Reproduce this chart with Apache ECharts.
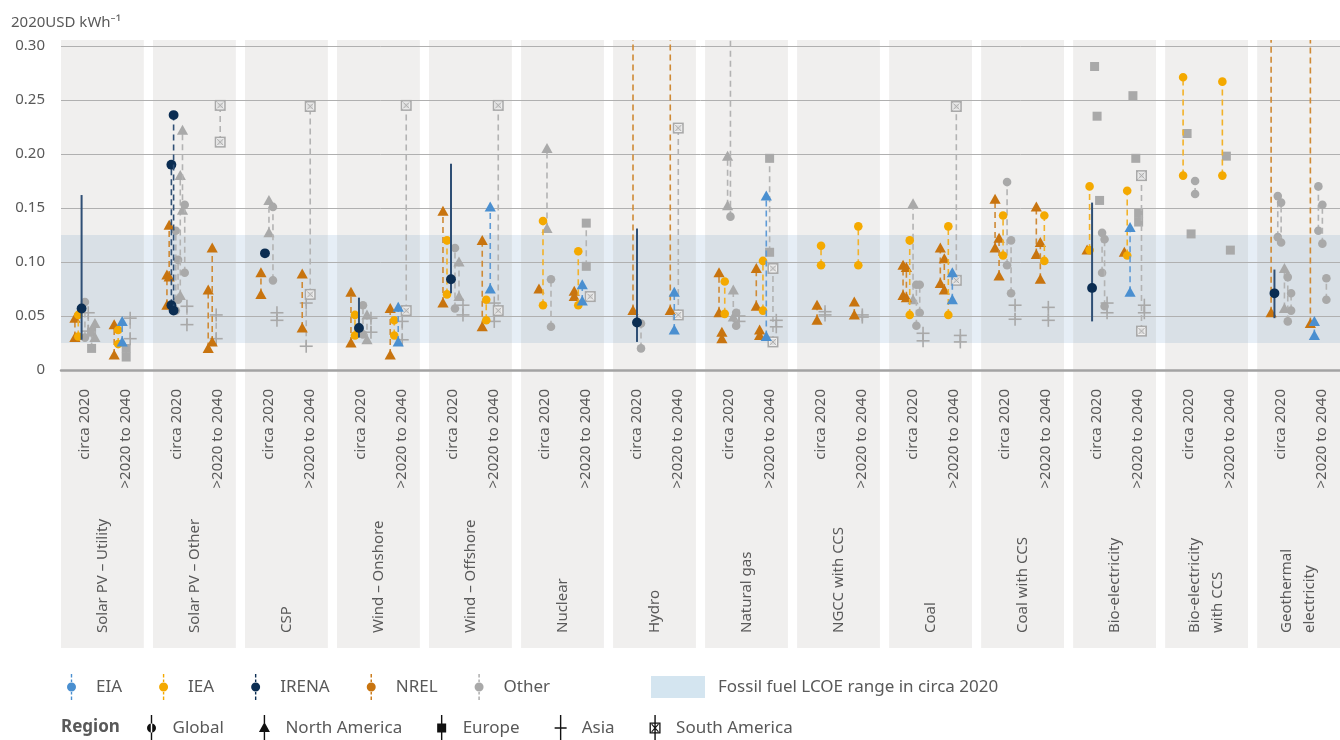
<!DOCTYPE html>
<html><head><meta charset="utf-8">
<script src="https://cdn.jsdelivr.net/npm/echarts@6/dist/echarts.min.js"></script>
<style>html,body{margin:0;padding:0;background:#fff}#c{width:1340px;height:740px}</style>
</head><body><div id="c"></div><script>
// ---------------- DATA ----------------
const groups = ['Solar PV – Utility', 'Solar PV – Other', 'CSP', 'Wind – Onshore', 'Wind – Offshore', 'Nuclear', 'Hydro', 'Natural gas', 'NGCC with CCS', 'Coal', 'Coal with CCS', 'Bio-electricity', 'Bio-electricity\nwith CCS', 'Geothermal\nelectricity'];
const periods = ['circa 2020', '>2020 to 2040'];
const regions = ['Global', 'North America', 'Europe', 'Asia', 'South America'];
const regionCodes = ['G', 'NA', 'EU', 'AS', 'SA'];
const fossilRange = [0.025, 0.125];
const yAxisName = '2020USD kWh⁻¹';
// rows: [group, period, region, low, high]
const eiaData = [
  [0,1,'NA',0.026,0.045],[3,1,'NA',0.026,0.058],[4,1,'NA',0.075,0.151],[5,1,'NA',0.064,0.079],
  [6,1,'NA',0.037,0.072],[7,1,'NA',0.031,0.161],[9,1,'NA',0.065,0.090],[11,1,'NA',0.072,0.132],
  [13,1,'NA',0.032,0.045]
];
const ieaData = [
  [0,0,'G',0.031,0.051],[0,1,'G',0.024,0.037],[3,0,'G',0.032,0.051],[3,1,'G',0.032,0.046],
  [4,0,'G',0.070,0.120],[4,1,'G',0.046,0.065],[5,0,'G',0.060,0.138],[5,1,'G',0.060,0.110],
  [7,0,'G',0.052,0.082],[7,1,'G',0.055,0.101],[8,0,'G',0.097,0.115],[8,1,'G',0.097,0.133],
  [9,0,'G',0.051,0.120],[9,1,'G',0.051,0.133],[10,0,'G',0.106,0.143],[10,1,'G',0.101,0.143],
  [11,0,'G',0.111,0.170],[11,1,'G',0.106,0.166],[12,0,'G',0.180,0.271],[12,1,'G',0.180,0.267]
];
// IRENA rows: [group, period, region, low, high, weighted average (null = plain range)]
const irenaData = [
  [0,0,'G',0.028,0.162,0.057],[1,0,'G',0.060,0.190,null],[1,0,'G',0.055,0.236,null],
  [2,0,'G',0.108,0.108,0.108],[3,0,'G',0.030,0.067,0.039],[4,0,'G',0.071,0.191,0.084],
  [6,0,'G',0.026,0.131,0.044],[11,0,'G',0.045,0.155,0.076],[13,0,'G',0.048,0.093,0.071]
];
const nrelData = [
  [0,0,'NA',0.030,0.048],[0,1,'NA',0.014,0.042],[1,0,'NA',0.060,0.088],[1,0,'NA',0.086,0.134],
  [1,1,'NA',0.020,0.074],[1,1,'NA',0.026,0.113],[2,0,'NA',0.070,0.090],[2,1,'NA',0.039,0.089],
  [3,0,'NA',0.025,0.072],[3,1,'NA',0.014,0.057],[4,0,'NA',0.062,0.147],[4,1,'NA',0.040,0.120],
  [5,0,'NA',0.075,0.075],[5,1,'NA',0.068,0.073],[6,0,'NA',0.055,0.40],[6,1,'NA',0.055,0.40],
  [7,0,'NA',0.053,0.090],[7,0,'NA',0.029,0.035],[7,1,'NA',0.059,0.094],[7,1,'NA',0.032,0.037],
  [8,0,'NA',0.046,0.060],[8,1,'NA',0.051,0.063],[9,0,'NA',0.069,0.097],[9,0,'NA',0.067,0.095],
  [9,1,'NA',0.080,0.113],[9,1,'NA',0.074,0.103],[10,0,'NA',0.113,0.158],[10,0,'NA',0.087,0.122],
  [10,1,'NA',0.107,0.151],[10,1,'NA',0.084,0.118],[11,0,'NA',0.111,0.111],[11,1,'NA',0.109,0.109],
  [13,0,'NA',0.053,0.40],[13,1,'NA',0.043,0.40]
];
const otherData = [
  [0,0,'G',0.030,0.063],[0,0,'AS',0.036,0.053],[0,0,'EU',0.020,0.035],[0,0,'NA',0.030,0.043],
  [0,1,'EU',0.012,0.020],[0,1,'AS',0.029,0.048],
  [1,0,'G',0.055,0.129],[1,0,'G',0.065,0.102],[1,0,'NA',0.069,0.180],[1,0,'NA',0.148,0.222],
  [1,0,'G',0.090,0.153],[1,0,'AS',0.042,0.059],[1,1,'AS',0.029,0.051],[1,1,'SA',0.211,0.245],
  [2,0,'NA',0.127,0.157],[2,0,'G',0.083,0.151],[2,0,'AS',0.046,0.053],[2,1,'AS',0.022,0.062],[2,1,'SA',0.070,0.244],
  [3,0,'G',0.033,0.060],[3,0,'NA',0.028,0.051],[3,0,'AS',0.035,0.048],[3,1,'AS',0.028,0.045],[3,1,'SA',0.055,0.245],
  [4,0,'G',0.057,0.113],[4,0,'NA',0.068,0.100],[4,0,'AS',0.051,0.060],[4,1,'AS',0.045,0.062],[4,1,'SA',0.055,0.245],
  [5,0,'NA',0.131,0.205],[5,0,'G',0.040,0.084],[5,1,'EU',0.096,0.136],[5,1,'SA',0.068,0.068],
  [6,0,'G',0.020,0.043],[6,1,'SA',0.051,0.224],
  [7,0,'NA',0.152,0.198],[7,0,'G',0.142,0.40],[7,0,'NA',0.049,0.074],[7,0,'G',0.041,0.053],[7,0,'AS',0.045,0.050],
  [7,1,'EU',0.109,0.196],[7,1,'SA',0.026,0.094],[7,1,'AS',0.040,0.046],
  [8,0,'AS',0.051,0.054],[8,1,'AS',0.049,0.051],
  [9,0,'NA',0.065,0.154],[9,0,'G',0.041,0.079],[9,0,'G',0.053,0.079],[9,0,'AS',0.027,0.034],
  [9,1,'SA',0.083,0.244],[9,1,'AS',0.026,0.032],
  [10,0,'G',0.097,0.174],[10,0,'G',0.071,0.120],[10,0,'AS',0.047,0.060],[10,1,'AS',0.046,0.058],
  [11,0,'EU',0.281,0.281],[11,0,'EU',0.235,0.235],[11,0,'EU',0.157,0.157],[11,0,'G',0.090,0.127],
  [11,0,'G',0.059,0.121],[11,0,'AS',0.053,0.062],
  [11,1,'EU',0.254,0.254],[11,1,'EU',0.196,0.196],[11,1,'EU',0.137,0.145],[11,1,'SA',0.036,0.180],[11,1,'AS',0.053,0.060],
  [12,0,'EU',0.219,0.219],[12,0,'EU',0.126,0.126],[12,0,'G',0.163,0.175],
  [12,1,'EU',0.198,0.198],[12,1,'EU',0.111,0.111],
  [13,0,'G',0.123,0.161],[13,0,'G',0.118,0.155],[13,0,'NA',0.057,0.094],[13,0,'G',0.045,0.086],[13,0,'G',0.055,0.071],
  [13,1,'G',0.129,0.170],[13,1,'G',0.117,0.153],[13,1,'G',0.065,0.085]
];

// ---------------- LAYOUT / STYLE ----------------
const PANEL_W = 0.9;            // panel width in axis units
const DATA_CENTER = [0.26, 0.665];
const LABEL_CENTER = [0.26, 0.70];
const sources = [
  {name:'Other', color:'#a9a9a9', line:'#b3b3b3', rows: otherData},
  {name:'NREL', color:'#c8740f', line:'#cf8a35', rows: nrelData},
  {name:'IEA', color:'#f4a900', line:'#f2b22a', rows: ieaData},
  {name:'EIA', color:'#4a8fd0', line:'#5f9bd6', rows: eiaData},
  {name:'IRENA', color:'#0b2d52', line:'#2f4f75', rows: irenaData}
];
const slotOrder = ['NREL','IEA','EIA','IRENA','Other'];
// small horizontal offsets inside each cluster (layout only)
const clusters = {};
slotOrder.forEach(sn => {
  const s = sources.find(q => q.name === sn);
  s.rows.forEach((r, i) => {
    const k = r[0] + '_' + r[1];
    (clusters[k] = clusters[k] || []).push(s.name + '#' + i);
  });
});
const offsetOf = {};
Object.keys(clusters).forEach(k => {
  const list = clusters[k], n = list.length;
  const step = n > 1 ? Math.min(4, 20 / (n - 1)) : 0;
  list.forEach((id, j) => { offsetOf[id] = (j - (n - 1) / 2) * step; });
});

function marker(code, x, y, color, big) {
  const s = big ? 1.15 : 1;
  if (code === 0) return {type:'circle', shape:{cx:x, cy:y, r:4.3 * s}, style:{fill:color}};
  if (code === 1) return {type:'polygon', shape:{points:[[x, y - 5.5], [x + 5.6, y + 4.5], [x - 5.6, y + 4.5]]}, style:{fill:color}};
  if (code === 2) return {type:'rect', shape:{x:x - 4.5, y:y - 4.5, width:9, height:9}, style:{fill:color}};
  if (code === 3) return {type:'group', children:[
    {type:'line', shape:{x1:x - 6.5, y1:y, x2:x + 6.5, y2:y}, style:{stroke:color, lineWidth:1.6}},
    {type:'line', shape:{x1:x, y1:y - 6.5, x2:x, y2:y + 6.5}, style:{stroke:color, lineWidth:1.6}}]};
  return {type:'group', children:[
    {type:'rect', shape:{x:x - 5.5, y:y - 5.5, width:11, height:11}, style:{fill:color}},
    {type:'rect', shape:{x:x - 3.5, y:y - 3.5, width:7, height:7}, style:{fill:'#dcdcdc', stroke:'#ffffff', lineWidth:0.8}},
    {type:'line', shape:{x1:x - 3, y1:y - 3, x2:x + 3, y2:y + 3}, style:{stroke:color, lineWidth:0.9}},
    {type:'line', shape:{x1:x + 3, y1:y - 3, x2:x - 3, y2:y + 3}, style:{stroke:color, lineWidth:0.9}}]};
}

function sourceSeries(src) {
  const isIrena = src.name === 'IRENA';
  const data = src.rows.map((r, i) => [
    r[0] + DATA_CENTER[r[1]], r[3], r[4],
    (isIrena && r[5] != null) ? r[5] : -1,
    regionCodes.indexOf(r[2]), offsetOf[src.name + '#' + i]
  ]);
  return {
    type:'custom', name:src.name, coordinateSystem:'cartesian2d', z:5, clip:false,
    itemStyle:{color:src.color},
    encode:{x:0, y:[1, 2]},
    data,
    renderItem(params, api) {
      const cs = params.coordSys;
      const x = api.coord([api.value(0), 0])[0] + api.value(5);
      const lo = api.value(1), hi = api.value(2), mid = api.value(3), reg = api.value(4);
      const yLo = api.coord([0, lo])[1];
      let yHi = api.coord([0, hi])[1];
      const over = yHi < cs.y - 0.5;
      if (over) yHi = cs.y - 6;
      const kids = [];
      const solid = mid >= 0;
      if (hi > lo) kids.push({type:'line', shape:{x1:x, y1:yLo, x2:x, y2:yHi},
        style:{stroke: src.line, lineWidth: solid ? 2 : 1.6, lineDash: solid ? null : [6, 4]}});
      if (solid) kids.push(marker(reg, x, api.coord([0, mid])[1], src.color, true));
      else {
        kids.push(marker(reg, x, yLo, src.color, isIrena));
        if (!over && hi > lo) kids.push(marker(reg, x, yHi, src.color, isIrena));
      }
      return {type:'group', children:kids};
    }
  };
}

const labelData = [];
groups.forEach((g, i) => {
  labelData.push([i + LABEL_CENTER[0], 0, 0]);
  labelData.push([i + LABEL_CENTER[1], 0, 1]);
  labelData.push([i + PANEL_W / 2, 1, i]);
});

const dashIcon = 'path://M4.3,0h1.4v3.5h-1.4z M4.3,5.5h1.4v2.5h-1.4z M0.5,13a4.5,4.5 0 1,0 9,0a4.5,4.5 0 1,0 -9,0z M4.3,18h1.4v2.5h-1.4z M4.3,22.5h1.4v3.5h-1.4z';
const LN = 'M5.3,0h1.4v26h-1.4z ';
const regionIcons = [
  'path://' + LN + 'M1.5,13a4.5,4.5 0 1,0 9,0a4.5,4.5 0 1,0 -9,0z',
  'path://' + LN + 'M6,7L11.5,17L0.5,17z',
  'path://' + LN + 'M1.5,8.5h9v9h-9z',
  'path://' + LN + 'M0,12.2h12v1.6h-12z',
  'path://' + LN + 'M0.5,7.5h11v11h-11z M1.8,8.8v8.4h8.4v-8.4z M2.2,9.6L3,8.8L9.8,16.4L9,17.2z M9,8.8L9.8,9.6L3,17.2L2.2,16.4z'
];
const FONT = '"Noto Sans", "Open Sans", sans-serif';
const TXT = '#595959';

const series = [
  { // fossil band, full width (shows in gaps between panels)
    type:'custom', name:'Fossil fuel LCOE range in circa 2020', coordinateSystem:'cartesian2d',
    z:-3, silent:true, itemStyle:{color:'#d4e5f0'}, encode:{x:0, y:[1, 2]},
    data:[[0, fossilRange[0], fossilRange[1]]],
    renderItem(params, api) {
      const cs = params.coordSys;
      const y1 = api.coord([0, api.value(2)])[1], y0 = api.coord([0, api.value(1)])[1];
      return {type:'rect', shape:{x:cs.x, y:y1, width:cs.width, height:y0 - y1}, style:{fill:'#e6eef6'}};
    }
  },
  { // grey panels (+ band over panel)
    type:'custom', name:'panels', coordinateSystem:'cartesian2d', z:-2, silent:true, clip:false,
    encode:{x:0, y:1},
    data: groups.map((g, i) => [i, 0]),
    renderItem(params, api) {
      const cs = params.coordSys;
      const x0 = api.coord([api.value(0), 0])[0], x1 = api.coord([api.value(0) + PANEL_W, 0])[0];
      const yb1 = api.coord([0, fossilRange[1]])[1], yb0 = api.coord([0, fossilRange[0]])[1];
      return {type:'group', children:[
        {type:'rect', shape:{x:x0, y:cs.y - 6, width:x1 - x0, height:cs.height + 6 + 278}, style:{fill:'#f0efee'}},
        {type:'rect', shape:{x:x0, y:yb1, width:x1 - x0, height:yb0 - yb1}, style:{fill:'#d9e0e6'}}
      ]};
    }
  },
  { // category texts
    type:'custom', name:'labels', coordinateSystem:'cartesian2d', z:6, silent:true, clip:false,
    encode:{x:0, y:1},
    data: labelData,
    renderItem(params, api) {
      const cs = params.coordSys;
      const x = api.coord([api.value(0), 0])[0];
      const base = cs.y + cs.height;
      const kind = api.value(1), idx = api.value(2);
      if (kind === 0) {
        return {type:'text', x:x, y:base + 19, rotation:Math.PI / 2,
          style:{text:periods[idx], fill:TXT, font:'15px ' + FONT, align:'right', verticalAlign:'middle'}};
      }
      return {type:'text', x:x, y:base + 263, rotation:Math.PI / 2,
        style:{text:groups[idx], fill:TXT, font:'15px ' + FONT, align:'left', verticalAlign:'middle', lineHeight:23}};
    }
  }
];
['Other', 'NREL', 'IEA', 'EIA', 'IRENA'].forEach(n => series.push(sourceSeries(sources.find(s => s.name === n))));
// region key entries (no marks of their own)
regions.forEach(r => series.push({type:'custom', name:r, coordinateSystem:'cartesian2d', data:[],
  itemStyle:{color:'#111111'}, renderItem:() => null}));

const chart = echarts.init(document.getElementById('c'), null, {renderer:'canvas'});
chart.setOption({
  animation:false,
  backgroundColor:'#ffffff',
  textStyle:{fontFamily:FONT},
  title:{text:yAxisName, left:6, top:10, padding:5, textStyle:{fontSize:15, fontWeight:'normal', color:TXT, fontFamily:FONT}},
  grid:{left:61, right:0, top:46, bottom:370, containLabel:false},
  xAxis:{type:'value', min:0, max:13.9, axisLabel:{show:false}, axisTick:{show:false}, splitLine:{show:false},
    axisLine:{show:true, onZero:true, lineStyle:{color:'#a3a3a3', width:2.5}}},
  yAxis:{type:'value', min:0, max:0.30, interval:0.05,
    axisLine:{show:false}, axisTick:{show:false},
    axisLabel:{margin:16, fontSize:15, color:TXT, fontFamily:FONT, formatter:v => v === 0 ? '0' : v.toFixed(2)},
    splitLine:{lineStyle:{color:'#b0b0b0', width:1}}},
  legend:[
    {data:['EIA', 'IEA', 'IRENA', 'NREL', 'Other'].map(n => ({name:n, icon:dashIcon})),
     left:62, top:669, itemWidth:11, itemHeight:26, itemGap:37, selectedMode:false,
     textStyle:{fontSize:17, color:TXT, fontFamily:FONT, padding:[0, 0, 0, 14]}},
    {data:[{name:'Fossil fuel LCOE range in circa 2020', icon:'rect'}],
     left:646, top:671, itemWidth:54, itemHeight:22, selectedMode:false,
     textStyle:{fontSize:17, color:TXT, fontFamily:FONT, padding:[0, 0, 0, 8]}},
    {data:regions.map((r, i) => ({name:r, icon:regionIcons[i]})),
     left:142, top:710, itemWidth:12, itemHeight:26, itemGap:35, selectedMode:false,
     textStyle:{fontSize:17, color:TXT, fontFamily:FONT, padding:[0, 0, 0, 10]}}
  ],
  graphic:[{type:'text', left:61, top:719, style:{text:'Region', font:'bold 17px ' + FONT, fill:TXT}}],
  series
});
</script></body></html>
